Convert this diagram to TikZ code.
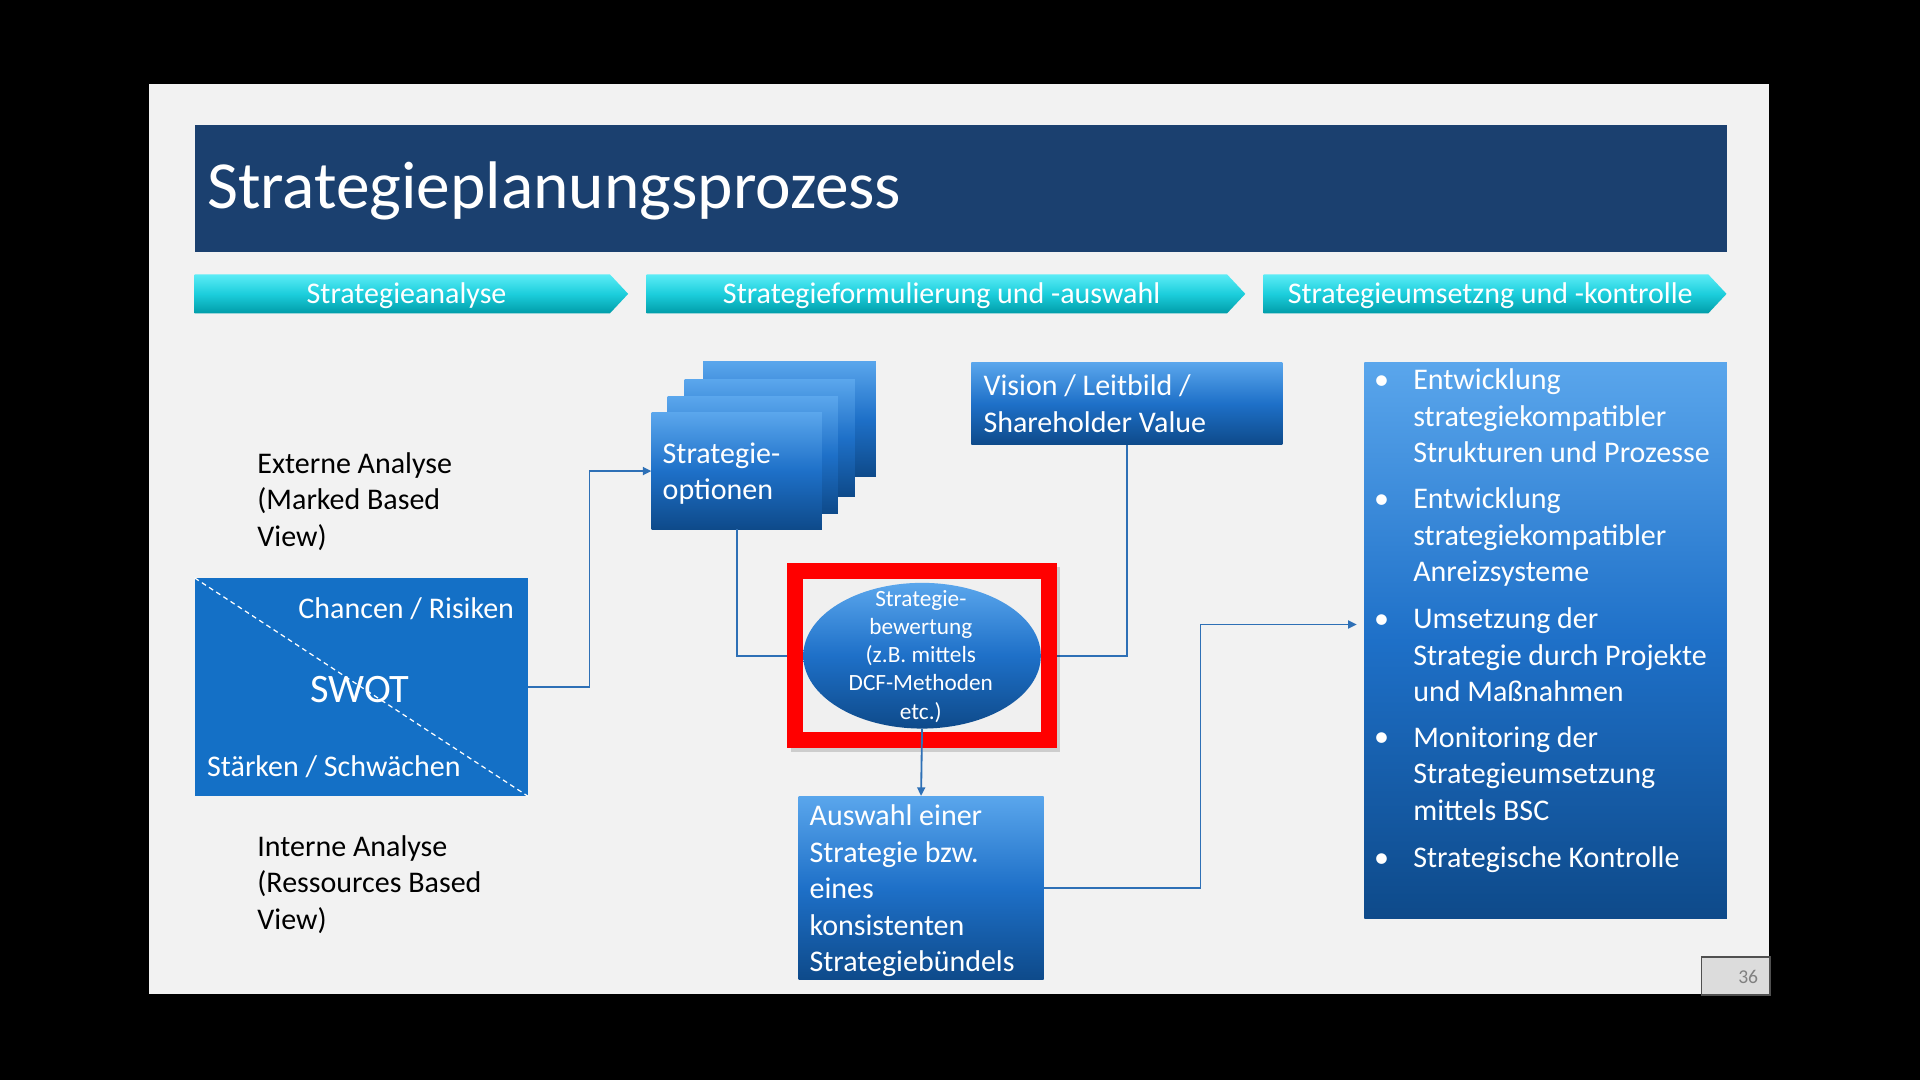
\documentclass[tikz,border=0pt]{standalone}
\usepackage{fontspec}
\setmainfont{Carlito}
\usetikzlibrary{arrows.meta,shapes.geometric}
\definecolor{slidebg}{RGB}{242,242,242}
\definecolor{titlebg}{RGB}{27,64,111}
\definecolor{chtop}{RGB}{92,236,246}
\definecolor{chmid}{RGB}{28,206,220}
\definecolor{chbot}{RGB}{0,156,168}
\definecolor{bxtop}{RGB}{90,166,236}
\definecolor{bxmid}{RGB}{30,112,200}
\definecolor{bxbot}{RGB}{14,74,138}
\definecolor{swotblue}{RGB}{20,112,198}
\definecolor{connblue}{RGB}{46,112,182}
\definecolor{frameinner}{RGB}{240,240,240}
\definecolor{pnfill}{RGB}{220,220,220}
\definecolor{pnborder}{RGB}{80,80,80}
\definecolor{pntext}{RGB}{128,128,128}
\begin{document}
\begin{tikzpicture}[x=1pt,y=-1pt,
  boxshade/.style={top color=bxtop, bottom color=bxbot, middle color=bxmid},
  bluebox/.style={rectangle, inner sep=0pt, anchor=north west, boxshade},
  chev/.style={top color=chtop, bottom color=chbot, middle color=chmid},
  chevtext/.style={text=white, inner sep=0pt, font=\fontsize{24.5}{29.8}\selectfont},
  wtxt/.style={text=white, inner sep=0pt, anchor=base west, align=left, font=\fontsize{24.5}{29.8}\selectfont},
  btxt/.style={text=black, inner sep=0pt, anchor=base west, align=left, font=\fontsize{24.5}{29.8}\selectfont},
  conn/.style={draw=connblue, line width=1.5pt},
  arr/.style={-{Triangle[length=7pt,width=6.5pt]}},
  bul/.style={text=white, inner sep=0pt, anchor=base west, font=\fontsize{24.5}{29.8}\selectfont},
]
% background and slide
\useasboundingbox (0,0) rectangle (1568,882);
\fill[black] (0,0) rectangle (1568,882);
\fill[slidebg] (122,69) rectangle (1445,812);
% title
\fill[titlebg] (159,102) rectangle (1410,206);
\node[text=white, inner sep=0pt, anchor=base west, font=\fontsize{55}{60}\selectfont] (title) at (169,170) {Strategieplanungsprozess};
% chevrons
\path[chev] (159,224) -- (498,224) -- (513,240) -- (498,256) -- (159,256) -- cycle;
\path[chev] (528,224) -- (1002,224) -- (1017,240) -- (1002,256) -- (528,256) -- cycle;
\path[chev] (1032,224) -- (1395,224) -- (1410,240) -- (1395,256) -- (1032,256) -- cycle;
\node[chevtext] (ch1) at (332,241.5) {Strategieanalyse};
\node[chevtext] (ch2) at (769,241.5) {Strategieformulierung und -auswahl};
\node[chevtext] (ch3) at (1217,241.5) {Strategieumsetzng und -kontrolle};
% left texts
\node[btxt] (ext) at (210,446) {Externe Analyse\\(Marked Based\\View)};
\node[btxt] (int) at (210,759) {Interne Analyse\\(Ressources Based\\View)};
% SWOT
\node[rectangle, fill=swotblue, inner sep=0pt, anchor=north west, minimum width=272pt, minimum height=178pt] (swot) at (159,472) {};
\draw[white, line width=1pt, dash pattern=on 4pt off 3pt] (swot.north west) -- (swot.south east);
\node[wtxt, anchor=base east] (chr) at (420,505) {Chancen / Risiken};
\node[text=white, inner sep=0pt, anchor=base, font=\fontsize{33}{38}\selectfont] (swott) at (294,574) {SWOT};
\node[wtxt] (sts) at (169,634) {Stärken / Schwächen};
% strategy options stack
\node[bluebox, minimum width=141pt, minimum height=94pt] (opt4) at (574,295) {};
\node[bluebox, minimum width=139pt, minimum height=95pt] (opt3) at (559,310) {};
\node[bluebox, minimum width=139pt, minimum height=95pt] (opt2) at (545,324) {};
\node[bluebox, minimum width=139pt, minimum height=95pt] (opt1) at (532,337) {};
\node[wtxt] (optt) at (541,408) {Strategie-\\optionen};
% vision
\node[bluebox, minimum width=254pt, minimum height=67pt] (vis) at (793,296) {};
\node[wtxt] (vist) at (803,353) {Vision / Leitbild /\\Shareholder Value};
% Auswahl
\node[bluebox, minimum width=200pt, minimum height=150pt] (ausw) at (652,650) {};
\node[wtxt] (auswt) at (661,793.5) {Auswahl einer\\Strategie bzw.\\eines\\konsistenten\\Strategiebündels};
% right box
\node[bluebox, minimum width=296pt, minimum height=454pt] (rbox) at (1114,296) {};
\node[bul] (b1) at (1122,318) {•};
\node[wtxt] (t1) at (1154,378) {Entwicklung\\strategiekompatibler\\Strukturen und Prozesse};
\node[bul] (b2) at (1122,415) {•};
\node[wtxt] (t2) at (1154,475) {Entwicklung\\strategiekompatibler\\Anreizsysteme};
\node[bul] (b3) at (1122,513) {•};
\node[wtxt] (t3) at (1154,573) {Umsetzung der\\Strategie durch Projekte\\und Maßnahmen};
\node[bul] (b4) at (1122,610) {•};
\node[wtxt] (t4) at (1154,670) {Monitoring der\\Strategieumsetzung\\mittels BSC};
\node[bul] (b5) at (1122,708.5) {•};
\node[wtxt] (t5) at (1154,708.5) {Strategische Kontrolle};
% red frame + ellipse
\node[rectangle, inner sep=0pt, minimum width=207pt, minimum height=138pt] (rf) at (753,535.5) {};
\coordinate (rin) at (1108,510);
\draw[conn, arr] (swot.east) -- ++(50,0) |- (opt1.west);
\draw[conn] (opt1.south) |- (rf.west);
\draw[conn] (vis.south) |- (rf.east);
\draw[conn, arr] (ausw.east) -- ++(128,0) |- (rin);
\fill[black, opacity=0.15] (646,463) rectangle (866,614);
\node[rectangle, draw=red, line width=13pt, fill=frameinner, inner sep=0pt, minimum width=207pt, minimum height=138pt] (rframe) at (753,535.5) {};
\node[ellipse, inner sep=0pt, minimum width=194pt, minimum height=119pt, boxshade] (ell) at (753,535.5) {};
\node[text=white, inner sep=0pt, align=center, font=\fontsize{19}{23}\selectfont] (ellt) at (752,536) {Strategie-\\bewertung\\(z.B. mittels\\DCF-Methoden\\etc.)};
\draw[conn, arr] (ell.south) -- (ausw.north);
% page number
\node[rectangle, draw=pnborder, fill=pnfill, line width=1pt, inner sep=0pt, anchor=north west, minimum width=56pt, minimum height=31pt] (pn) at (1389,781) {};
\node[text=pntext, inner sep=0pt, anchor=base east, font=\fontsize{16}{19}\selectfont] (pnt) at (1436,803) {36};
\end{tikzpicture}
\end{document}
